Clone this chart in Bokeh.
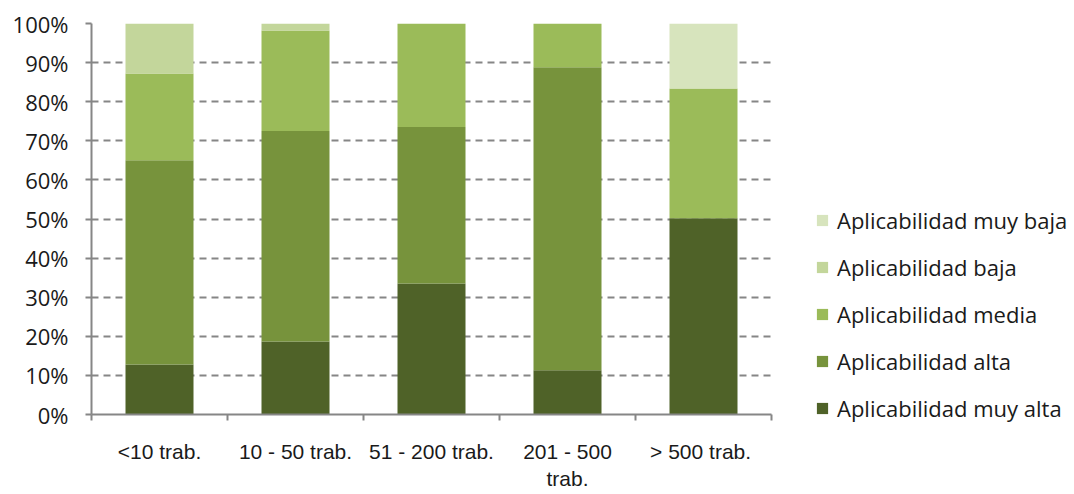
import numpy as np
from bokeh.plotting import figure
from bokeh.models import Range1d, FixedTicker, Legend, LegendItem, ColumnDataSource
from bokeh.embed import file_html
from bokeh.resources import INLINE

categories = ["<10 trab.", "10 - 50 trab.", "51 - 200 trab.", "201 - 500\ntrab.", "> 500  trab."]
muy_alta = [12.8, 18.7, 33.5, 11.3, 50.2]
alta = [52.2, 53.8, 40.0, 77.5, 0.0]
media = [22.2, 25.7, 26.5, 11.2, 33.2]
baja = [12.8, 1.8, 0.0, 0.0, 0.0]
muy_baja = [0.0, 0.0, 0.0, 0.0, 16.6]

series_names = ["Aplicabilidad muy alta", "Aplicabilidad alta", "Aplicabilidad media",
                "Aplicabilidad baja", "Aplicabilidad muy baja"]
series_vals = [muy_alta, alta, media, baja, muy_baja]
colors = ["#4F6228", "#77933C", "#9BBB59", "#C3D69B", "#D7E4BD"]
y_ticks = [0, 10, 20, 30, 40, 50, 60, 70, 80, 90, 100]

n = len(categories)
centers = list(np.arange(n) + 0.5)
bounds = list(range(n + 1))

data = {"x": centers}
keys = []
for i, v in enumerate(series_vals):
    k = f"s{i}"
    keys.append(k)
    data[k] = v
src = ColumnDataSource(data)

p = figure(frame_width=680, frame_height=391, output_backend="svg", toolbar_location=None,
           x_range=Range1d(0, n), y_range=Range1d(0, 100),
           min_border_left=91, min_border_right=0, min_border_top=23, min_border_bottom=72)
p.outline_line_color = None

renderers = p.vbar_stack(keys, x="x", width=0.5, source=src, color=colors, line_width=0)

# x axis
xa = p.xaxis[0]
xa.ticker = FixedTicker(ticks=centers, minor_ticks=bounds)
xa.major_label_overrides = {c: lab for c, lab in zip(centers, categories)}
xa.major_tick_line_color = None
xa.minor_tick_line_color = "#868686"
xa.minor_tick_line_width = 2
xa.minor_tick_out = 6
xa.minor_tick_in = 0
xa.axis_line_color = "#868686"
xa.axis_line_width = 2
xa.major_label_standoff = 19
xa.major_label_text_font = "'Liberation Sans Narrow', 'Liberation Sans'"
xa.major_label_text_font_size = "21px"
xa.major_label_text_color = "#1a1a1a"

# y axis
ya = p.yaxis[0]
ya.ticker = FixedTicker(ticks=y_ticks)
ya.major_label_overrides = {t: f"{t}%" for t in y_ticks}
ya.axis_line_color = "#868686"
ya.axis_line_width = 2
ya.major_tick_line_color = "#868686"
ya.major_tick_line_width = 2
ya.major_tick_out = 6
ya.major_tick_in = 0
ya.minor_tick_line_color = None
ya.major_label_standoff = 17
ya.major_label_text_font = "Open Sans"
ya.major_label_text_font_size = "22px"
ya.major_label_text_color = "#1a1a1a"

p.xgrid.grid_line_color = None
p.ygrid.grid_line_color = "#868686"
p.ygrid.grid_line_width = 2
p.ygrid.grid_line_dash = "7 5"

items = [LegendItem(label=series_names[i], renderers=[renderers[i]]) for i in reversed(range(len(keys)))]
legend = Legend(items=items, location=(44, -9), orientation="vertical")
legend.border_line_color = None
legend.background_fill_alpha = 0
legend.padding = 0
legend.margin = 0
legend.glyph_width = 14
legend.glyph_height = 14
legend.label_standoff = 8
legend.spacing = 17
legend.label_height = 26
legend.label_text_font = "Open Sans"
legend.label_text_font_size = "22px"
legend.label_text_color = "#1a1a1a"
legend.click_policy = "none"
p.add_layout(legend, "right")

open("out.html", "w").write(file_html(p, INLINE))
